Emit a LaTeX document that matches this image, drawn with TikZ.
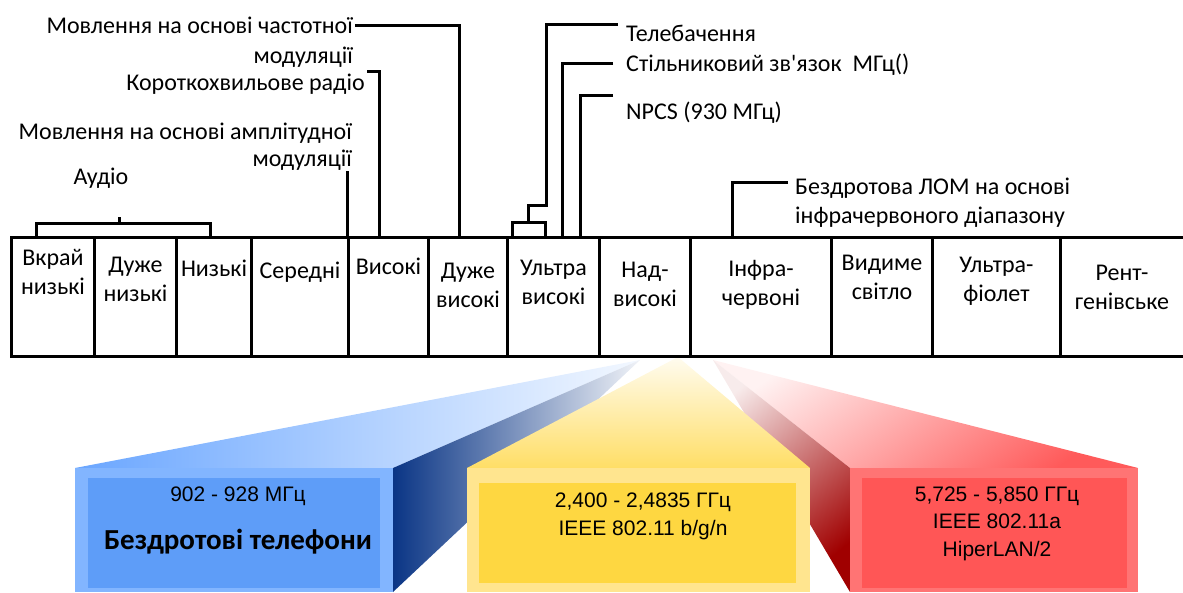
\documentclass[tikz,border=0pt]{standalone}
\usepackage{fontspec}
\setmainfont{Carlito}[Ligatures=TeXOff]
\newfontfamily\boxfont{Liberation Sans}
\usetikzlibrary{positioning}

\definecolor{bluetop}{HTML}{6AA6FF}
\definecolor{blueedge}{HTML}{82B5FF}
\definecolor{bluein}{HTML}{5E9DF8}
\definecolor{bluedark}{HTML}{0A3585}
\definecolor{yeltop}{HTML}{FFDE66}
\definecolor{yeledge}{HTML}{FFE58F}
\definecolor{yelin}{HTML}{FED741}
\definecolor{redtop}{HTML}{FF5A5A}
\definecolor{rededge}{HTML}{FF7474}
\definecolor{redin}{HTML}{FF5656}
\definecolor{reddark}{HTML}{A00000}

\tikzset{
  band/.style={draw, line width=3pt, anchor=north west, minimum height=119pt, inner sep=0pt},
  bandtext/.style={align=center, inner sep=0pt, font=\fontsize{24}{29}\selectfont},
  lbl/.style={inner sep=0pt, font=\fontsize{24}{28}\selectfont},
  wire/.style={line width=3pt},
  boxtext/.style={anchor=base, inner sep=0pt, font=\boxfont\fontsize{21}{24}\selectfont},
}

\begin{document}
\begin{tikzpicture}[x=1pt, y=-1pt]
  \useasboundingbox (0,0) rectangle (1183,592);

  %%% fans under the bands
  \coordinate (bapex) at (640,360);
  \coordinate (yapex) at (678,357);
  \coordinate (rapex) at (713,360);

  % blue: 900 MHz
  \shade[left color=bluetop, right color=bluetop!8!white] (75,468) -- (393,468) -- (bapex) -- cycle;
  \shade[left color=bluedark, right color=bluedark!6!white] (393,468) -- (393,592) -- (bapex) -- cycle;
  \fill[blueedge] (75,468) rectangle (393,592);
  \fill[bluein] (88,478) rectangle (380,588);

  % red: 5 GHz
  \shade[top color=redtop!8!white, bottom color=redtop, shading angle=35] (850,468) -- (1138,468) -- (rapex) -- cycle;
  \shade[top color=reddark!8!white, bottom color=reddark, shading angle=40] (850,468) -- (850,592) -- (rapex) -- cycle;
  \fill[rededge] (850,468) rectangle (1138,592);
  \fill[redin] (862,478) rectangle (1127,588);

  % yellow: 2.4 GHz
  \shade[top color=yeltop!10!white, bottom color=yeltop] (467,468) -- (810,468) -- (yapex) -- cycle;
  \fill[yeledge] (467,468) rectangle (810,592);
  \fill[yelin] (479,483) rectangle (796,583);

  \node[boxtext] (bfreq) at (238,501) {902 - 928 МГц};
  \node[anchor=base, inner sep=0pt, font=\bfseries\fontsize{29}{30}\selectfont] (bname) at (238,549) {Бездротові телефони};
  \node[boxtext] (yfreq) at (643,507) {2,400 - 2,4835 ГГц};
  \node[boxtext] (ystd) at (643,535) {IEEE 802.11 b/g/n};
  \node[boxtext] (rfreq) at (997,501) {5,725 - 5,850 ГГц};
  \node[boxtext] (rstd) at (997,528) {IEEE 802.11a};
  \node[boxtext] (rhlan) at (997,556) {HiperLAN/2};

  %%% spectrum bands
  \node[band, minimum width=83pt] (elf) at (10,236) {};
  \node[band, minimum width=82pt] (vlf) at (93,236) {};
  \node[band, minimum width=75pt] (lf) at (175,236) {};
  \node[band, minimum width=97pt] (mf) at (250,236) {};
  \node[band, minimum width=80pt] (hf) at (347,236) {};
  \node[band, minimum width=79pt] (vhf) at (427,236) {};
  \node[band, minimum width=92pt] (uhf) at (506,236) {};
  \node[band, minimum width=91pt] (shf) at (598,236) {};
  \node[band, minimum width=141pt] (ir) at (689,236) {};
  \node[band, minimum width=101pt] (vis) at (830,236) {};
  \node[band, minimum width=128pt] (uv) at (931,236) {};
  \node[band, minimum width=141pt] (xray) at (1059,236) {};

  \node[bandtext, below=13pt of elf.north] (elft) {Вкрай\\низькі};
  \node[bandtext, below=21pt of vlf.north] (vlft) {Дуже\\низькі};
  \node[bandtext, below=24pt of lf.north] (lft) {Низькі};
  \node[bandtext, below=26pt of mf.north] (mft) {Середні};
  \node[bandtext, below=22pt of hf.north] (hft) {Високі};
  \node[bandtext, below=27pt of vhf.north] (vhft) {Дуже\\високі};
  \node[bandtext, below=24pt of uhf.north] (uhft) {Ультра\\високі};
  \node[bandtext, below=26pt of shf.north] (shft) {Над-\\високі};
  \node[bandtext, below=24pt of ir.north] (irt) {Інфра-\\червоні};
  \node[bandtext, below=19pt of vis.north] (vist) {Видиме\\світло};
  \node[bandtext, below=21pt of uv.north] (uvt) {Ультра-\\фіолет};
  \node[bandtext, below=29pt of xray.north, xshift=-9pt] (xrayt) {Рент-\\генівське};

  %%% services above the bands
  \node[lbl, anchor=north east, align=right, font=\fontsize{24}{30}\selectfont] (fm) at (353,17) {Мовлення на основі частотної\\модуляції};
  \node[lbl, anchor=base east] (sw) at (365,90) {Короткохвильове радіо};
  \node[lbl, anchor=north east, align=right, font=\fontsize{24}{27}\selectfont] (am) at (352,123) {Мовлення на основі амплітудної\\модуляції};
  \node[lbl, anchor=base] (aud) at (101,184) {Аудіо};
  \node[lbl, anchor=base west] (tv) at (626,41) {Телебачення};
  \node[lbl, anchor=base west] (cell) at (626,71) {Стільниковий зв'язок\ \ МГц()};
  \node[lbl, anchor=base west] (npcs) at (626,119) {NPCS (930 МГц)};
  \node[lbl, anchor=north west, align=left, font=\fontsize{24}{29}\selectfont] (lom) at (795,178) {Бездротова ЛОМ на основі\\інфрачервоного діапазону};

  \coordinate (fmfoot) at (459,236);
  \coordinate (swfoot) at (379,236);
  \coordinate (amfoot) at (347,236);
  \coordinate (audl) at (36,236);
  \coordinate (audr) at (210,236);
  \coordinate (audmid) at (119,223);
  \coordinate (audtick) at (119,217);
  \coordinate (tvl) at (512,236);
  \coordinate (tvr) at (545,236);
  \coordinate (tvmid) at (528,222);
  \coordinate (tvstep) at (546,205);
  \coordinate (cellfoot) at (562,236);
  \coordinate (npcsfoot) at (580,236);
  \coordinate (lomfoot) at (732,236);

  \draw[wire] ([xshift=2pt, yshift=-8pt]fm.north east) -| (fmfoot);
  \draw[wire] ([xshift=2pt, yshift=2pt]sw.north east) -| (swfoot);
  \draw[wire] (amfoot) -- (amfoot |- am.south);
  \draw[wire] (audl) |- (audmid) -| (audr);
  \draw[wire] (audmid) -- (audtick);
  \draw[wire] (tvl) |- (tvmid) -| (tvr);
  \draw[wire] (tvmid) |- (tvstep) |- ([xshift=-8pt]tv.north west);
  \draw[wire] ([xshift=-13pt, yshift=7.5pt]cell.base west) -| (cellfoot);
  \draw[wire] ([xshift=-13pt, yshift=24pt]npcs.base west) -| (npcsfoot);
  \draw[wire] ([xshift=-7pt, yshift=-4pt]lom.north west) -| (lomfoot);
\end{tikzpicture}
\end{document}
